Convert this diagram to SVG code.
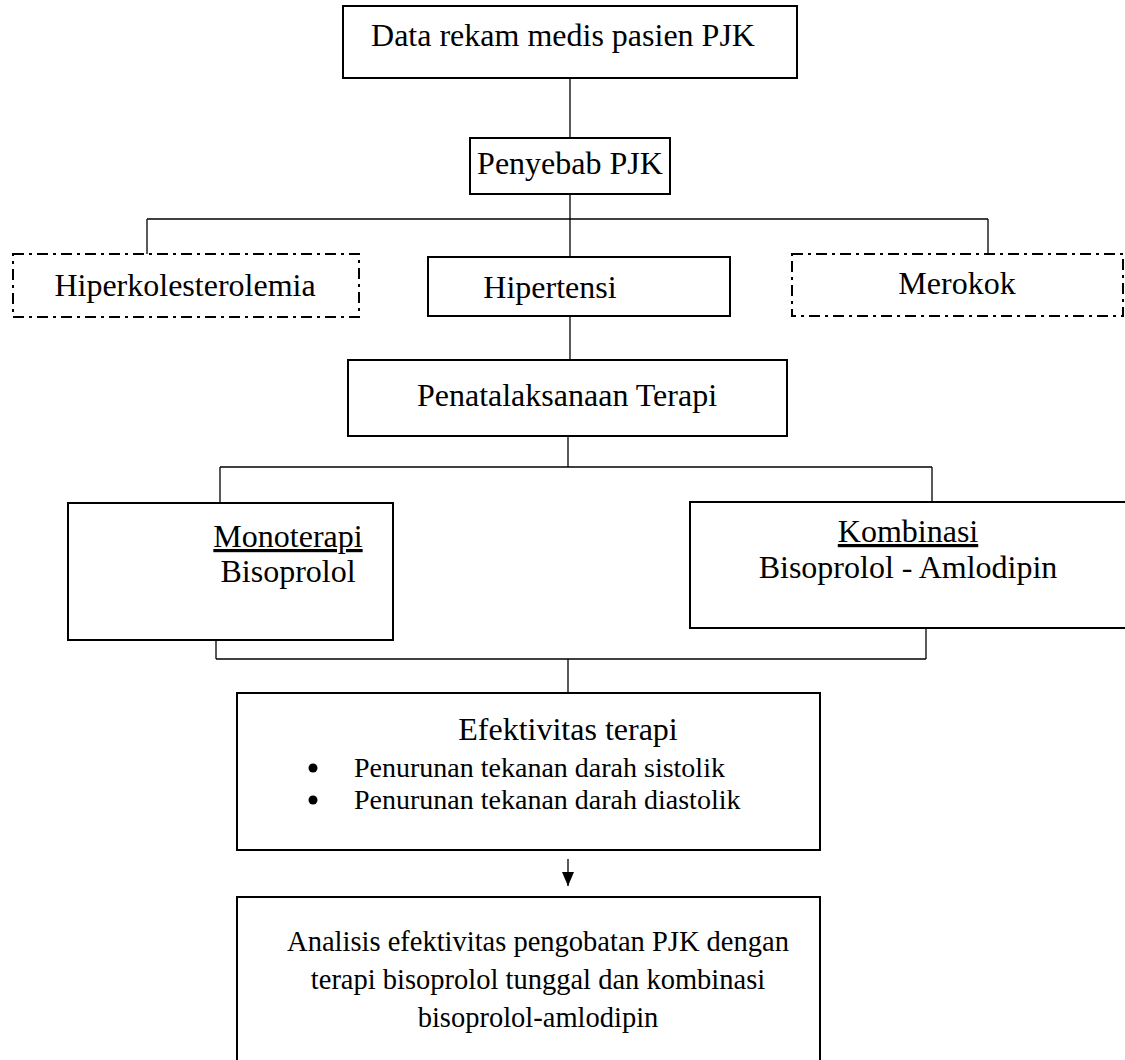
<svg xmlns="http://www.w3.org/2000/svg" width="1125" height="1060" viewBox="0 0 1125 1060">
<style>
.box{fill:#fff;stroke:#000;stroke-width:2}
.dd{fill:#fff;stroke:#000;stroke-width:2;stroke-dasharray:11 5 3 5}
.ln{fill:none;stroke:#000;stroke-width:1.3}
.t{font-family:"Liberation Serif","Times New Roman",serif;font-size:32px;fill:#000;text-anchor:middle}
.m{font-family:"Liberation Serif","Times New Roman",serif;font-size:28.5px;fill:#000;text-anchor:middle}
.s{font-family:"Liberation Serif","Times New Roman",serif;font-size:28px;fill:#000}
</style>
<defs>
<marker id="ah" viewBox="0 0 14 12" refX="14" refY="6" markerWidth="14" markerHeight="12" markerUnits="userSpaceOnUse" orient="auto">
<path d="M0,0 L14,6 L0,12 z" fill="#000"/>
</marker>
</defs>
<rect width="1125" height="1060" fill="#fff"/>
<g id="connectors">
<line class="ln" x1="570" y1="78" x2="570" y2="138"/>
<line class="ln" x1="570" y1="194" x2="570" y2="257"/>
<line class="ln" x1="147" y1="219" x2="988" y2="219"/>
<line class="ln" x1="147" y1="219" x2="147" y2="254"/>
<line class="ln" x1="988" y1="219" x2="988" y2="254"/>
<line class="ln" x1="570" y1="316" x2="570" y2="360"/>
<line class="ln" x1="568" y1="436" x2="568" y2="467"/>
<line class="ln" x1="220" y1="467" x2="932" y2="467"/>
<line class="ln" x1="220" y1="467" x2="220" y2="503"/>
<line class="ln" x1="932" y1="467" x2="932" y2="502"/>
<line class="ln" x1="216" y1="640" x2="216" y2="659"/>
<line class="ln" x1="926" y1="628" x2="926" y2="659"/>
<line class="ln" x1="216" y1="659" x2="926" y2="659"/>
<line class="ln" x1="568" y1="659" x2="568" y2="693"/>
<line class="ln" x1="568" y1="859" x2="568" y2="886" stroke-width="2" marker-end="url(#ah)"/>
</g>
<g id="data">
<rect class="box" x="343" y="6" width="454" height="72"/>
<text class="t" x="563" y="46">Data rekam medis pasien PJK</text>
</g>
<g id="penyebab">
<rect class="box" x="470" y="138" width="200" height="56"/>
<text class="t" x="570" y="174">Penyebab PJK</text>
</g>
<g id="hiperkolesterolemia">
<rect class="dd" x="13" y="254" width="346" height="63"/>
<text class="t" x="185" y="296">Hiperkolesterolemia</text>
</g>
<g id="hipertensi">
<rect class="box" x="428" y="257" width="302" height="59"/>
<text class="t" x="550" y="298">Hipertensi</text>
</g>
<g id="merokok">
<rect class="dd" x="792" y="254" width="331" height="62"/>
<text class="t" x="957" y="294">Merokok</text>
</g>
<g id="penatalaksanaan">
<rect class="box" x="348" y="360" width="439" height="76"/>
<text class="t" x="567" y="406">Penatalaksanaan Terapi</text>
</g>
<g id="monoterapi">
<rect class="box" x="68" y="503" width="325" height="137"/>
<text class="t" x="288" y="547" text-decoration="underline">Monoterapi</text>
<text class="t" x="288" y="582">Bisoprolol</text>
</g>
<g id="kombinasi">
<rect class="box" x="690" y="502" width="445" height="126"/>
<text class="t" x="908" y="542" text-decoration="underline">Kombinasi</text>
<text class="t" x="908" y="578">Bisoprolol - Amlodipin</text>
</g>
<g id="efektivitas">
<rect class="box" x="237" y="693" width="583" height="157"/>
<text class="t" x="568" y="740">Efektivitas terapi</text>
<circle cx="313" cy="768" r="4.5" fill="#000"/>
<text class="s" x="354" y="777">Penurunan tekanan darah sistolik</text>
<circle cx="313" cy="800" r="4.5" fill="#000"/>
<text class="s" x="354" y="809">Penurunan tekanan darah diastolik</text>
</g>
<g id="analisis">
<rect class="box" x="237" y="897" width="583" height="180"/>
<text class="m" x="538" y="951">Analisis efektivitas pengobatan PJK dengan</text>
<text class="m" x="538" y="989">terapi bisoprolol tunggal dan kombinasi</text>
<text class="m" x="538" y="1027">bisoprolol-amlodipin</text>
</g>
</svg>
